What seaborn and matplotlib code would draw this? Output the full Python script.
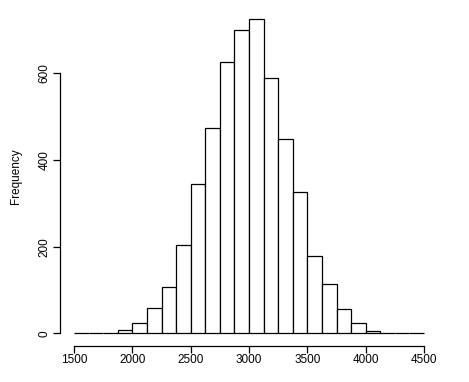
import numpy as np
import matplotlib
matplotlib.use("Agg")
import matplotlib.pyplot as plt
import seaborn as sns

# histogram bins (width 125) and counts
bin_edges = [1500 + 125 * i for i in range(25)]
counts = [1, 1, 1, 7, 23, 58, 106, 203, 344, 473, 625, 699,
          726, 590, 449, 325, 178, 113, 56, 23, 6, 0, 0, 2]
x_ticks = [1500, 2000, 2500, 3000, 3500, 4000, 4500]
y_ticks = [0, 200, 400, 600]

centers = [(bin_edges[i] + bin_edges[i + 1]) / 2 for i in range(len(counts))]

sns.set_style("white")
plt.rcParams['font.family'] = ['Liberation Sans', 'DejaVu Sans']
plt.rcParams['text.color'] = 'black'
plt.rcParams['axes.labelcolor'] = 'black'
plt.rcParams['xtick.color'] = 'black'
plt.rcParams['ytick.color'] = 'black'

fig = plt.figure(figsize=(4.69, 3.82), dpi=100)
ax = fig.add_axes([60 / 469, 1 - 346 / 382, 378 / 469, 340 / 382])

sns.histplot(x=centers, weights=counts, bins=bin_edges, ax=ax,
             color="white", edgecolor="black", linewidth=0.9, alpha=1)

ax.set_xlim(1380, 4620)
ax.set_ylim(-29, 755)
ax.set_xticks(x_ticks)
ax.set_yticks(y_ticks)
ax.set_xticklabels([str(t) for t in x_ticks], fontsize=8.5)
ax.set_yticklabels([str(t) for t in y_ticks], fontsize=8.5, rotation=90, va="center")
ax.set_xlabel("")
ax.set_ylabel("Frequency", fontsize=8.5, labelpad=12)

for s in ["top", "right"]:
    ax.spines[s].set_visible(False)
ax.spines["left"].set_bounds(0, 600)
ax.spines["bottom"].set_bounds(1500, 4500)
for s in ["left", "bottom"]:
    ax.spines[s].set_linewidth(0.9)
    ax.spines[s].set_color("black")
ax.tick_params(axis="both", direction="out", length=5, width=0.9, color="black",
               labelcolor="black", left=True, bottom=True, pad=2)
ax.tick_params(axis="x", pad=1)
ax.grid(False)

fig.savefig("out.png", dpi=100)
